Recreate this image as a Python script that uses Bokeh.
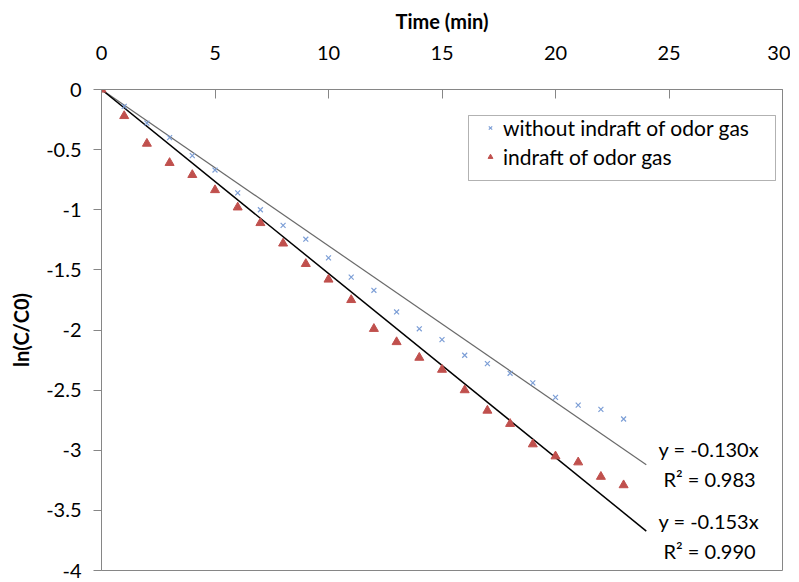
from bokeh.plotting import figure
from bokeh.models import Legend, LegendItem, Label, Range1d, FixedTicker, BoxAnnotation
from bokeh.embed import file_html
from bokeh.resources import INLINE

# ---- data ----
time_min = list(range(0, 24))
without_indraft = [0.0, -0.14, -0.28, -0.40, -0.55, -0.67, -0.86, -1.00, -1.13, -1.245,
                   -1.40, -1.56, -1.67, -1.85, -1.99, -2.08, -2.21, -2.28, -2.36, -2.44,
                   -2.56, -2.625, -2.66, -2.74]
with_indraft = [0.0, -0.22, -0.45, -0.61, -0.71, -0.836, -0.98, -1.11, -1.28, -1.45,
                -1.58, -1.75, -1.99, -2.10, -2.23, -2.33, -2.50, -2.67, -2.78, -2.95,
                -3.05, -3.10, -3.22, -3.29]
slope_without = -0.130
slope_with = -0.153
r2_without = 0.983
r2_with = 0.990
fit_x = [0, 24]
x_ticks = [0, 5, 10, 15, 20, 25, 30]
y_ticks = [0, -0.5, -1, -1.5, -2, -2.5, -3, -3.5, -4]

FONT = "Lato"
AXIS_COLOR = "#868686"

W, H = 790, 582
BL, BT, BR, BB = 101, 89, 8, 12
p = figure(width=W, height=H, output_backend="svg", toolbar_location=None,
           x_axis_location="above", x_range=Range1d(0, 30), y_range=Range1d(-4, 0),
           min_border_left=BL, min_border_right=BR, min_border_top=BT, min_border_bottom=BB)
p.background_fill_color = "white"
p.border_fill_color = "white"
p.outline_line_color = AXIS_COLOR
p.outline_line_width = 1
p.xgrid.visible = False
p.ygrid.visible = False

# pixel -> data helpers (for annotation placement only)
fw = W - BL - BR
fh = H - BT - BB
def dx(px):
    return (px - BL) / fw * 30.0
def dy(py):
    return -(py - BT) / fh * 4.0

# axes
xa = p.xaxis[0]
xa.ticker = FixedTicker(ticks=x_ticks)
xa.axis_label = "Time (min)"
xa.axis_label_text_font = FONT
xa.axis_label_text_font_style = "bold"
xa.axis_label_text_font_size = "20px"
xa.axis_label_text_color = "black"
xa.axis_label_standoff = 10
xa.major_label_text_font = FONT
xa.major_label_text_font_size = "20px"
xa.major_label_text_color = "black"
xa.major_tick_in = 9
xa.major_tick_out = 0
xa.major_label_standoff = 30
xa.minor_tick_line_color = None
xa.axis_line_color = AXIS_COLOR
xa.major_tick_line_color = AXIS_COLOR

ya = p.yaxis[0]
ya.ticker = FixedTicker(ticks=y_ticks)
ya.major_label_overrides = {t: ("%g" % t) for t in y_ticks}
ya.axis_label = "ln(C/C0)"
ya.axis_label_text_font = FONT
ya.axis_label_text_font_style = "bold"
ya.axis_label_text_font_size = "20px"
ya.axis_label_text_color = "black"
ya.axis_label_standoff = 10
ya.major_label_text_font = FONT
ya.major_label_text_font_size = "20px"
ya.major_label_text_color = "black"
ya.major_tick_in = 0
ya.major_tick_out = 8
ya.major_label_standoff = 12
ya.minor_tick_line_color = None
ya.axis_line_color = AXIS_COLOR
ya.major_tick_line_color = AXIS_COLOR

# trend lines
p.line(fit_x, [slope_without * x for x in fit_x], line_color="#6a6a6a", line_width=1.2)
p.line(fit_x, [slope_with * x for x in fit_x], line_color="black", line_width=1.5)

# scatter
r1 = p.scatter(time_min, without_indraft, marker="x", size=7, line_color="#7C9ED6", line_width=1.2)
r2 = p.scatter(time_min, with_indraft, marker="triangle", size=9, fill_color="#C0504D",
               line_color="#C0504D")

# legend (frame box drawn separately)
p.add_layout(BoxAnnotation(left=dx(468), right=dx(775), top=dy(115), bottom=dy(180),
                           fill_color="white", fill_alpha=1.0, line_color="black",
                           line_width=1, level="annotation"))
legend = Legend(items=[LegendItem(label="without indraft of odor gas", renderers=[r1]),
                       LegendItem(label="indraft of odor gas", renderers=[r2])],
                location=(484 - BL, (H - BB) - 169))
legend.label_text_font = FONT
legend.label_text_font_size = "21px"
legend.label_text_color = "black"
legend.border_line_color = None
legend.background_fill_alpha = 0
legend.padding = 2
legend.margin = 0
legend.spacing = 4
legend.glyph_width = 12
legend.glyph_height = 25
legend.label_standoff = 7
legend.label_height = 25
p.add_layout(legend)

# equation labels
for txt, px, py in [("y = %.3fx" % slope_without, 658, 448),
                    ("R\u00b2 = %.3f" % r2_without, 663, 478),
                    ("y = %.3fx" % slope_with, 658, 520),
                    ("R\u00b2 = %.3f" % r2_with, 663, 550)]:
    p.add_layout(Label(x=dx(px), y=dy(py), text=txt, text_font=FONT, text_font_size="20px",
                       text_color="black", text_baseline="middle", text_align="left"))

open("out.html", "w").write(file_html(p, INLINE))
